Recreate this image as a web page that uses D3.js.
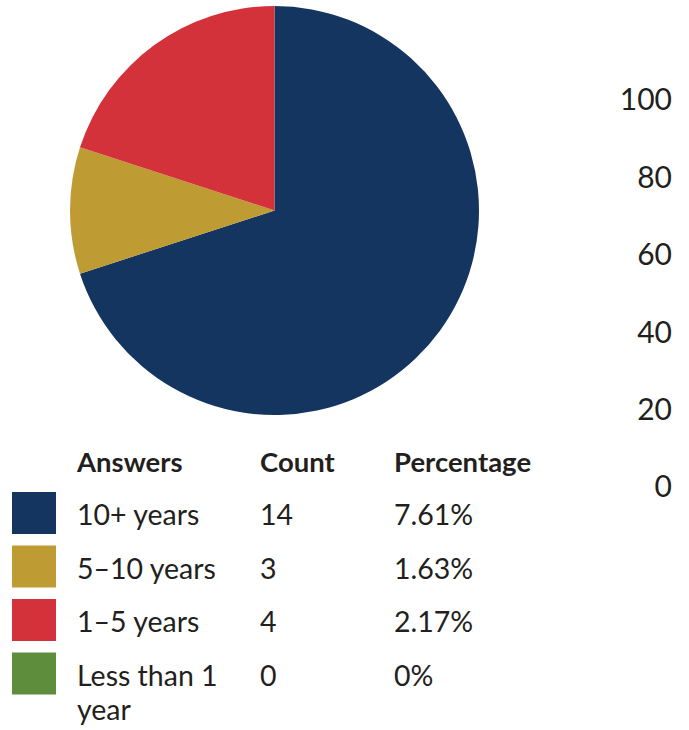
<!DOCTYPE html>
<html>
<head>
<meta charset="utf-8">
<script src="https://cdn.jsdelivr.net/npm/d3@7"></script>
<style>
  html, body { margin: 0; padding: 0; background: #fff; }
  svg { display: block; }
  text { font-family: "Futura", "Lato", "Noto Sans", sans-serif; fill: #231f20; }
</style>
</head>
<body>
<svg id="chart" width="689" height="730"></svg>
<script>
// Survey answers: years of experience
const answers = ["10+ years", "5\u201310 years", "1\u20135 years", "Less than 1 year"];
const counts = [14, 3, 4, 0];
const percentages = ["7.61%", "1.63%", "2.17%", "0%"];
// Slice shares (percent of the pie) as drawn
const shares = [70, 10, 20, 0];
const colors = ["#143560", "#bf9b33", "#d4323b", "#5e8d3c"];
const axisTicks = [0, 20, 40, 60, 80, 100];
const headers = ["Answers", "Count", "Percentage"];

const svg = d3.select("#chart");

// Pie
const cx = 274.5, cy = 210.5, radius = 204.5;
const pie = d3.pie().sort(null).value(d => d.share);
const arc = d3.arc().innerRadius(0).outerRadius(radius);
const rows = answers.map((a, i) => ({
  answer: a, count: counts[i], share: shares[i], pct: percentages[i], color: colors[i]
}));

svg.append("g")
  .attr("transform", `translate(${cx},${cy})`)
  .selectAll("path")
  .data(pie(rows))
  .join("path")
  .attr("d", arc)
  .attr("fill", d => d.data.color);

// Value axis on the right (labels only)
const y = d3.scaleLinear().domain([0, 100]).range([486, 99]);
const axis = d3.axisLeft(y).tickValues(axisTicks).tickSize(0).tickPadding(0);
const axisG = svg.append("g").attr("transform", "translate(672,0)").call(axis);
axisG.select(".domain").remove();
axisG.selectAll("text")
  .attr("font-family", null)
  .style("font-size", "30px")
  .attr("fill", "#231f20")
  .attr("dy", "0.36em");

// Legend table
const colX = [77, 260, 394];
svg.append("g")
  .selectAll("text")
  .data(headers)
  .join("text")
  .attr("x", (d, i) => colX[i])
  .attr("y", 472)
  .style("font-size", "27.5px")
  .style("font-weight", "700")
  .text(d => d);

const rowY0 = 525, rowStep = 53.5;
const rowG = svg.append("g")
  .selectAll("g")
  .data(rows)
  .join("g")
  .attr("transform", (d, i) => `translate(0,${rowY0 + i * rowStep})`);

rowG.append("rect")
  .attr("x", 12).attr("y", -33)
  .attr("width", 44).attr("height", 42)
  .attr("fill", d => d.color);

const labelText = rowG.append("text")
  .attr("x", colX[0])
  .style("font-size", "28.5px");
labelText.each(function(d) {
  const t = d3.select(this);
  const lines = d.answer === "Less than 1 year" ? ["Less than 1", "year"] : [d.answer];
  lines.forEach((ln, j) => {
    t.append("tspan").attr("x", colX[0]).attr("dy", j === 0 ? 0 : 34).text(ln);
  });
});

rowG.append("text")
  .attr("x", colX[1])
  .style("font-size", "28.5px")
  .text(d => d.count);

rowG.append("text")
  .attr("x", colX[2])
  .style("font-size", "28.5px")
  .text(d => d.pct);
</script>
</body>
</html>
